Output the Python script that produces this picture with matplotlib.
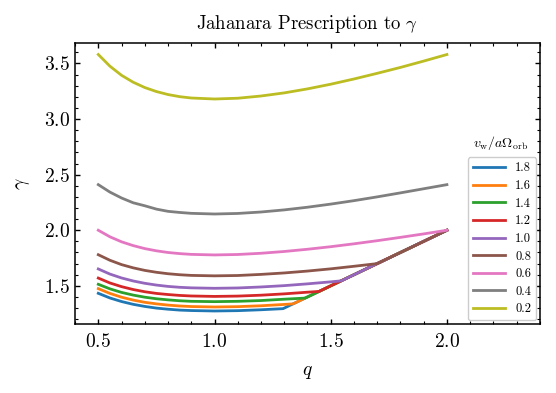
import numpy as np
import matplotlib
matplotlib.use("Agg")
import matplotlib.pyplot as plt
from matplotlib.ticker import MultipleLocator

plt.rcParams.update({
    "font.family": "serif",
    "font.serif": ["cmr10"],
    "mathtext.fontset": "cm",
    "axes.formatter.use_mathtext": True,
    "axes.unicode_minus": False,
    "font.size": 14,
    "axes.linewidth": 1.1,
    "xtick.direction": "in",
    "ytick.direction": "in",
    "xtick.top": True,
    "ytick.right": True,
    "xtick.major.size": 3.5,
    "ytick.major.size": 3.5,
    "xtick.minor.size": 2,
    "ytick.minor.size": 2,
    "xtick.major.width": 1.0,
    "ytick.major.width": 1.0,
    "xtick.minor.width": 0.8,
    "ytick.minor.width": 0.8,
    "xtick.major.pad": 6,
})

# mass ratio grid
q = [0.5, 0.55, 0.6, 0.65, 0.7, 0.75, 0.8, 0.85, 0.9, 1.0, 1.1, 1.2, 1.3, 1.4, 1.5, 1.6, 1.7, 1.8, 1.9, 2.0]

# gamma, one list per wind velocity
v_labels = ["1.8", "1.6", "1.4", "1.2", "1.0", "0.8", "0.6", "0.4", "0.2"]
g_18 = [1.433, 1.391, 1.359, 1.334, 1.315, 1.300, 1.290, 1.282, 1.278, 1.274, 1.277, 1.285, 1.30, 1.40, 1.50, 1.60, 1.70, 1.80, 1.90, 2.00]
g_16 = [1.475, 1.432, 1.398, 1.372, 1.352, 1.338, 1.327, 1.319, 1.314, 1.310, 1.313, 1.321, 1.333, 1.40, 1.50, 1.60, 1.70, 1.80, 1.90, 2.00]
g_14 = [1.514, 1.473, 1.441, 1.417, 1.398, 1.384, 1.374, 1.366, 1.361, 1.358, 1.361, 1.368, 1.380, 1.40, 1.50, 1.60, 1.70, 1.80, 1.90, 2.00]
g_12 = [1.570, 1.526, 1.493, 1.467, 1.447, 1.432, 1.422, 1.414, 1.409, 1.405, 1.408, 1.416, 1.428, 1.443, 1.50, 1.60, 1.70, 1.80, 1.90, 2.00]
g_10 = [1.652, 1.606, 1.571, 1.544, 1.523, 1.507, 1.495, 1.487, 1.482, 1.478, 1.481, 1.490, 1.502, 1.518, 1.536, 1.60, 1.70, 1.80, 1.90, 2.00]
g_08 = [1.780, 1.730, 1.691, 1.662, 1.639, 1.622, 1.609, 1.600, 1.594, 1.590, 1.593, 1.603, 1.616, 1.633, 1.653, 1.676, 1.70, 1.80, 1.90, 2.00]
g_06 = [2.000, 1.941, 1.896, 1.862, 1.835, 1.815, 1.800, 1.790, 1.783, 1.778, 1.782, 1.793, 1.809, 1.829, 1.852, 1.878, 1.906, 1.936, 1.967, 2.000]
g_04 = [2.410, 2.343, 2.290, 2.247, 2.220, 2.190, 2.170, 2.160, 2.152, 2.146, 2.151, 2.164, 2.183, 2.207, 2.235, 2.266, 2.300, 2.336, 2.373, 2.410]
g_02 = [3.580, 3.475, 3.393, 3.331, 3.283, 3.247, 3.220, 3.201, 3.189, 3.180, 3.187, 3.207, 3.235, 3.271, 3.313, 3.360, 3.411, 3.464, 3.521, 3.580]

# where each curve meets the gamma = q branch (None: no kink)
kink_q = [1.295, 1.338, 1.39, 1.45, 1.545, None, None, None, None]

series = [g_18, g_16, g_14, g_12, g_10, g_08, g_06, g_04, g_02]

fig = plt.figure(figsize=(5.56, 3.93), dpi=100)
ax = fig.add_axes([0.135, 0.175, 0.836, 0.716])

for i, (lab, g) in enumerate(zip(v_labels, series)):
    x = list(q)
    y = list(g)
    if kink_q[i] is not None:
        x.append(kink_q[i])
        y.append(kink_q[i])
        order = np.argsort(x)
        x = np.array(x)[order]
        y = np.array(y)[order]
    ax.plot(x, y, color=f"C{i}", lw=2, label=lab)

ax.set_xlim(0.4, 2.4)
ax.set_ylim(1.155, 3.685)
ax.xaxis.set_major_locator(MultipleLocator(0.5))
ax.xaxis.set_minor_locator(MultipleLocator(0.1))
ax.yaxis.set_major_locator(MultipleLocator(0.5))
ax.yaxis.set_minor_locator(MultipleLocator(0.1))
ax.tick_params(which="both", top=True, right=True)

ax.set_xlabel("$q$", labelpad=9)
ax.set_ylabel(r"$\gamma$", labelpad=9)
ax.set_title(r"Jahanara Prescription to $\gamma$", fontsize=13.5, pad=10)

leg = ax.legend(loc="lower right", fontsize=9, handlelength=2.6,
                labelspacing=0.44, borderaxespad=0.3, framealpha=1.0)
leg.get_frame().set_edgecolor("#cccccc")
ax.text(0.916, 0.645, r"$v_\mathrm{w}/a\Omega_\mathrm{orb}$", transform=ax.transAxes,
        ha="center", va="center", fontsize=10)

fig.savefig("out.png", dpi=100)
